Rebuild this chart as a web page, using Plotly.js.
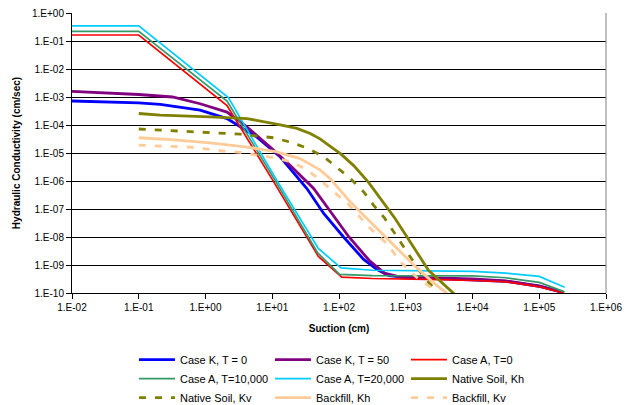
<!DOCTYPE html>
<html>
<head>
<meta charset="utf-8">
<script src="https://cdn.plot.ly/plotly-3.0.1.min.js"></script>
<style>
  html, body { margin: 0; padding: 0; background: #ffffff; }
  #chart { width: 626px; height: 405px; }
</style>
</head>
<body>
<div id="chart"></div>
<script>
// ---- Data ----
const suctionCaseK0 = [0.01, 0.1, 0.21, 0.83, 2.1, 5.9, 13.2, 33, 59, 117, 234, 372, 562, 1000, 3160, 10000, 31600, 100000, 224000];
const kCaseK0 = [7.2e-4, 6.2e-4, 5.5e-4, 3.4e-4, 1.7e-4, 3.7e-5, 7.2e-6, 5.4e-7, 6.9e-8, 1.0e-8, 1.58e-9, 6.9e-10, 4.2e-10, 3.6e-10, 3.3e-10, 3.0e-10, 2.6e-10, 1.74e-10, 1.05e-10];

const suctionCaseK50 = [0.01, 0.1, 0.32, 0.83, 2.1, 4.2, 9.3, 18.6, 41.7, 74, 141, 282, 479, 832, 3160, 10000, 31600, 100000, 224000];
const kCaseK50 = [1.58e-3, 1.23e-3, 1.0e-3, 5.75e-4, 2.88e-4, 8.5e-5, 1.62e-5, 3.6e-6, 5.4e-7, 7.9e-8, 1.0e-8, 1.48e-9, 5.1e-10, 3.7e-10, 3.4e-10, 3.2e-10, 2.7e-10, 1.78e-10, 1.07e-10];

const suctionCaseA0 = [0.01, 0.1, 2.1, 10.2, 49, 110, 316, 1000, 3160, 10000, 31600, 100000, 234000];
const kCaseA0 = [0.164, 0.164, 4.9e-4, 1.05e-6, 2.04e-9, 3.7e-10, 3.3e-10, 3.2e-10, 3.0e-10, 2.8e-10, 2.5e-10, 1.66e-10, 1.0e-10];

const suctionCaseA10000 = [0.01, 0.1, 2.1, 11, 48, 102, 316, 1000, 3160, 10000, 31600, 100000, 240000];
const kCaseA10000 = [0.222, 0.222, 7.2e-4, 1.05e-6, 2.7e-9, 4.6e-10, 4.2e-10, 4.1e-10, 4.1e-10, 4.1e-10, 3.5e-10, 2.4e-10, 1.1e-10];

const suctionCaseA20000 = [0.01, 0.1, 2.2, 11.7, 49, 107, 316, 1000, 3160, 10000, 31600, 100000, 240000];
const kCaseA20000 = [0.347, 0.347, 9.55e-4, 1.05e-6, 3.89e-9, 7.9e-10, 6.5e-10, 6.3e-10, 6.2e-10, 5.9e-10, 5.1e-10, 3.9e-10, 1.6e-10];

const suctionNativeKh = [0.1, 0.21, 1.17, 4.2, 13.2, 23.4, 37, 52, 74, 105, 166, 275, 692, 1050, 2190, 5250];
const kNativeKh = [2.57e-4, 2.24e-4, 1.95e-4, 1.7e-4, 1.02e-4, 7.6e-5, 5.0e-5, 3.2e-5, 1.74e-5, 9.5e-6, 3.55e-6, 9.1e-7, 4.6e-8, 1.0e-8, 6.5e-10, 9.5e-11];

const suctionNativeKv = [0.1, 1.05, 3.3, 10.5, 18.6, 33, 59, 148, 234, 331, 479, 933, 1380, 1860, 2950];
const kNativeKv = [7.2e-5, 5.6e-5, 4.7e-5, 3.5e-5, 2.45e-5, 1.51e-5, 7.4e-6, 1.23e-6, 4.1e-7, 1.35e-7, 4.8e-8, 4.4e-9, 1.12e-9, 3.7e-10, 1.12e-10];

const suctionBackfillKh = [0.1, 0.3, 1.17, 4.2, 11.7, 26, 52, 74, 148, 295, 661, 1318, 2512, 4170];
const kBackfillKh = [3.5e-5, 3.0e-5, 2.3e-5, 1.62e-5, 1.1e-5, 6.3e-6, 2.5e-6, 1.2e-6, 1.78e-7, 3.55e-8, 5.0e-9, 1.0e-9, 2.5e-10, 9.5e-11];

const suctionBackfillKv = [0.1, 0.59, 1.86, 3.3, 10.5, 18.6, 33, 52, 83, 132, 195, 295, 525, 832, 1480, 2750];
const kBackfillKv = [1.9e-5, 1.62e-5, 1.17e-5, 1.05e-5, 6.8e-6, 5.0e-6, 2.57e-6, 1.1e-6, 4.1e-7, 1.66e-7, 5.9e-8, 2.0e-8, 5.75e-9, 1.29e-9, 3.5e-10, 1.26e-10];

const seriesNames = ['Case K, T = 0', 'Case K, T = 50', 'Case A, T=0', 'Case A, T=10,000', 'Case A, T=20,000',
                     'Native Soil, Kh', 'Native Soil, Kv', 'Backfill, Kh', 'Backfill, Kv'];

const xTickVals = [1e-2, 1e-1, 1e0, 1e1, 1e2, 1e3, 1e4, 1e5, 1e6];
const xTickText = ['1.E-02', '1.E-01', '1.E+00', '1.E+01', '1.E+02', '1.E+03', '1.E+04', '1.E+05', '1.E+06'];
const yTickVals = [1e-10, 1e-9, 1e-8, 1e-7, 1e-6, 1e-5, 1e-4, 1e-3, 1e-2, 1e-1, 1e0];
const yTickText = ['1.E-10', '1.E-09', '1.E-08', '1.E-07', '1.E-06', '1.E-05', '1.E-04', '1.E-03', '1.E-02', '1.E-01', '1.E+00'];

// ---- Styles ----
const styles = [
  {color: '#0000FF', width: 2.8, dash: 'solid'},
  {color: '#800080', width: 2.8, dash: 'solid'},
  {color: '#FF0000', width: 1.7, dash: 'solid'},
  {color: '#339966', width: 1.7, dash: 'solid'},
  {color: '#00CCFF', width: 1.7, dash: 'solid'},
  {color: '#808000', width: 2.8, dash: 'solid'},
  {color: '#808000', width: 2.8, dash: '7px,9px'},
  {color: '#FFCC99', width: 2.8, dash: 'solid'},
  {color: '#FFCC99', width: 2.8, dash: '7px,9px'}
];

const xs = [suctionCaseK0, suctionCaseK50, suctionCaseA0, suctionCaseA10000, suctionCaseA20000,
            suctionNativeKh, suctionNativeKv, suctionBackfillKh, suctionBackfillKv];
const ys = [kCaseK0, kCaseK50, kCaseA0, kCaseA10000, kCaseA20000,
            kNativeKh, kNativeKv, kBackfillKh, kBackfillKv];

const traces = seriesNames.map((name, i) => ({
  type: 'scatter',
  mode: 'lines',
  name: name,
  x: xs[i],
  y: ys[i],
  line: {color: styles[i].color, width: styles[i].width, dash: styles[i].dash},
  hoverinfo: 'x+y+name'
}));

const font = 'Arial, "Liberation Sans", sans-serif';

const layout = {
  width: 626,
  height: 405,
  margin: {l: 72, r: 20, t: 13, b: 112},
  paper_bgcolor: '#ffffff',
  plot_bgcolor: '#ffffff',
  font: {family: font, size: 10, color: '#000000'},
  showlegend: true,
  xaxis: {
    type: 'log',
    range: [-2, 6],
    tickvals: xTickVals,
    ticktext: xTickText,
    ticks: 'outside',
    ticklen: 5,
    tickcolor: '#000000',
    showgrid: false,
    zeroline: false,
    showline: true,
    linecolor: '#000000',
    linewidth: 1,
    tickfont: {family: font, size: 10, color: '#000000'},
    title: {text: '<b>Suction (cm)</b>', font: {family: font, size: 10, color: '#000000'}, standoff: 12}
  },
  yaxis: {
    type: 'log',
    range: [-10, 0],
    tickvals: yTickVals,
    ticktext: yTickText,
    ticks: 'outside',
    ticklen: 5,
    tickcolor: '#000000',
    showgrid: true,
    gridcolor: '#000000',
    gridwidth: 1,
    zeroline: false,
    showline: true,
    linecolor: '#000000',
    linewidth: 1,
    tickfont: {family: font, size: 10, color: '#000000'},
    title: {text: '<b>Hydraulic Conductivity (cm/sec)</b>', font: {family: font, size: 10, color: '#000000'}, standoff: 9}
  },
  shapes: [
    {type: 'line', xref: 'paper', yref: 'paper', x0: 1, x1: 1, y0: 0, y1: 1, line: {color: '#808080', width: 1}}
  ],
  legend: {
    orientation: 'h',
    xref: 'container',
    yref: 'container',
    x: 0.214,
    xanchor: 'left',
    y: 0.148,
    yanchor: 'top',
    entrywidth: 85,
    entrywidthmode: 'pixels',
    itemwidth: 36,
    font: {family: font, size: 11, color: '#000000'},
    bgcolor: 'rgba(0,0,0,0)',
    traceorder: 'normal'
  }
};

Plotly.newPlot('chart', traces, layout, {staticPlot: true, displayModeBar: false});
</script>
</body>
</html>
